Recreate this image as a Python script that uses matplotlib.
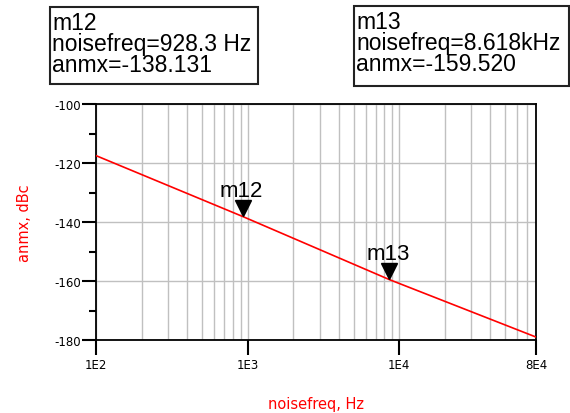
import matplotlib
matplotlib.use("Agg")
import matplotlib.pyplot as plt
from matplotlib.ticker import LogLocator, FixedLocator, NullFormatter
import matplotlib.transforms as mtransforms

plt.rcParams['font.family'] = ['Liberation Sans', 'DejaVu Sans']
plt.rcParams['axes.unicode_minus'] = False

# 曲线数据 (频率 Hz, anmx dBc)
noisefreq = [100, 928.3, 8618, 80000]
anmx = [-117.5, -138.131, -159.520, -179.0]

# 标记
marker_names = ["m12", "m13"]
marker_freq = [928.3, 8618]
marker_val = [-138.131, -159.520]
marker_text = ["m12\nnoisefreq=928.3 Hz\nanmx=-138.131",
               "m13\nnoisefreq=8.618kHz\nanmx=-159.520"]

xticks = [1e2, 1e3, 1e4, 8e4]
xtick_labels = ["1E2", "1E3", "1E4", "8E4"]
yticks = [-180, -160, -140, -120, -100]

fig = plt.figure(figsize=(5.7, 4.14), dpi=100)
ax = fig.add_axes([96/570, 1-341/414, 440/570, 236/414])

ax.plot(noisefreq, anmx, color="red", lw=1.2, zorder=3)
ax.set_xscale("log")
ax.set_xlim(1e2, 8e4)
ax.set_ylim(-180, -100)

# 网格
ax.xaxis.set_minor_locator(LogLocator(base=10, subs=range(2, 10)))
ax.xaxis.set_minor_formatter(NullFormatter())
ax.set_xticks(xticks)
ax.set_xticklabels(xtick_labels)
ax.set_yticks(yticks)
ax.yaxis.set_minor_locator(FixedLocator([-170, -150, -130, -110]))
ax.grid(True, which="both", axis="x", color="#c0c0c0", lw=1)
ax.grid(True, which="major", axis="y", color="#c0c0c0", lw=1)
ax.set_axisbelow(True)

ax.tick_params(axis="x", which="major", direction="out", length=11, width=1.5, pad=2)
ax.tick_params(axis="x", which="minor", length=0)
ax.tick_params(axis="y", which="major", direction="out", length=10, width=1.5, pad=1)
ax.tick_params(axis="y", which="minor", direction="out", length=5, width=1.5)
for lab in ax.get_xticklabels() + ax.get_yticklabels():
    lab.set_family("DejaVu Sans")
    lab.set_fontsize(8.5)
for s in ax.spines.values():
    s.set_linewidth(1.3)

ax.set_xlabel("noisefreq, Hz", color="red", fontsize=10.5, family="DejaVu Sans", labelpad=18)
ax.set_ylabel("anmx, dBc", color="red", fontsize=10.5, family="DejaVu Sans", labelpad=16)

# 标记三角形与名称
off = mtransforms.offset_copy(ax.transData, fig=fig, x=0, y=6, units="points")
for name, f, v in zip(marker_names, marker_freq, marker_val):
    ax.plot([f], [v], marker="v", color="black", markersize=11, transform=off, zorder=4)
    ax.annotate(name, (f, v), xytext=(-1, 11), textcoords="offset points",
                ha="center", va="bottom", fontsize=16)

# 标记信息框
box_pos = [(50, 8, 208, 77), (354, 7, 215, 80)]
for (bx, by, bw, bh), txt in zip(box_pos, marker_text):
    rect = plt.Rectangle((bx/570, 1-(by+bh)/414), bw/570, bh/414, transform=fig.transFigure,
                         fill=False, edgecolor="#222222", lw=1.5)
    fig.patches.append(rect)
    fig.text((bx+2)/570, 1-(by+4)/414, txt, ha="left", va="top", fontsize=16.5, linespacing=0.88)

fig.savefig("out.png", dpi=100)
